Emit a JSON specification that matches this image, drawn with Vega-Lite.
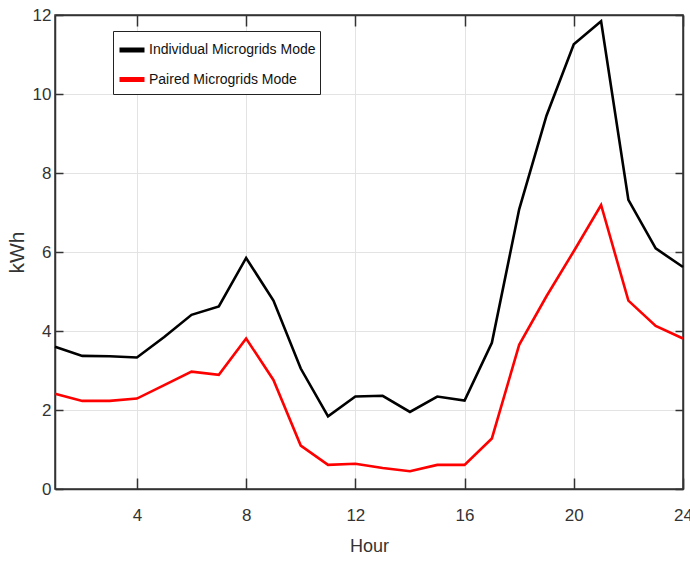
{
  "$schema": "https://vega.github.io/schema/vega-lite/v6.json",
  "width": 628,
  "height": 474,
  "autosize": {"type": "none"},
  "padding": {"left": 55, "top": 15, "right": 7, "bottom": 74},
  "background": "white",
  "config": {
    "font": "Liberation Sans, Arial, sans-serif",
    "view": {"stroke": "#333333", "strokeWidth": 1.5},
    "axis": {
      "labelFont": "Liberation Sans, Arial, sans-serif",
      "titleFont": "Liberation Sans, Arial, sans-serif",
      "labelColor": "#333333",
      "titleColor": "#333333",
      "domainColor": "#333333",
      "domainWidth": 1.5,
      "tickColor": "#333333",
      "tickWidth": 1.5,
      "gridColor": "#e3e3e3",
      "gridWidth": 1,
      "gridOpacity": 1
    }
  },
  "data": {
    "values": [
      {"hour": 1, "kwh": 3.6, "series": "Individual Microgrids Mode"},
      {"hour": 2, "kwh": 3.37, "series": "Individual Microgrids Mode"},
      {"hour": 3, "kwh": 3.36, "series": "Individual Microgrids Mode"},
      {"hour": 4, "kwh": 3.33, "series": "Individual Microgrids Mode"},
      {"hour": 5, "kwh": 3.85, "series": "Individual Microgrids Mode"},
      {"hour": 6, "kwh": 4.41, "series": "Individual Microgrids Mode"},
      {"hour": 7, "kwh": 4.62, "series": "Individual Microgrids Mode"},
      {"hour": 8, "kwh": 5.85, "series": "Individual Microgrids Mode"},
      {"hour": 9, "kwh": 4.77, "series": "Individual Microgrids Mode"},
      {"hour": 10, "kwh": 3.05, "series": "Individual Microgrids Mode"},
      {"hour": 11, "kwh": 1.84, "series": "Individual Microgrids Mode"},
      {"hour": 12, "kwh": 2.34, "series": "Individual Microgrids Mode"},
      {"hour": 13, "kwh": 2.36, "series": "Individual Microgrids Mode"},
      {"hour": 14, "kwh": 1.95, "series": "Individual Microgrids Mode"},
      {"hour": 15, "kwh": 2.34, "series": "Individual Microgrids Mode"},
      {"hour": 16, "kwh": 2.24, "series": "Individual Microgrids Mode"},
      {"hour": 17, "kwh": 3.7, "series": "Individual Microgrids Mode"},
      {"hour": 18, "kwh": 7.08, "series": "Individual Microgrids Mode"},
      {"hour": 19, "kwh": 9.45, "series": "Individual Microgrids Mode"},
      {"hour": 20, "kwh": 11.26, "series": "Individual Microgrids Mode"},
      {"hour": 21, "kwh": 11.84, "series": "Individual Microgrids Mode"},
      {"hour": 22, "kwh": 7.32, "series": "Individual Microgrids Mode"},
      {"hour": 23, "kwh": 6.09, "series": "Individual Microgrids Mode"},
      {"hour": 24, "kwh": 5.62, "series": "Individual Microgrids Mode"},
      {"hour": 1, "kwh": 2.41, "series": "Paired Microgrids Mode"},
      {"hour": 2, "kwh": 2.23, "series": "Paired Microgrids Mode"},
      {"hour": 3, "kwh": 2.23, "series": "Paired Microgrids Mode"},
      {"hour": 4, "kwh": 2.29, "series": "Paired Microgrids Mode"},
      {"hour": 5, "kwh": 2.63, "series": "Paired Microgrids Mode"},
      {"hour": 6, "kwh": 2.97, "series": "Paired Microgrids Mode"},
      {"hour": 7, "kwh": 2.89, "series": "Paired Microgrids Mode"},
      {"hour": 8, "kwh": 3.81, "series": "Paired Microgrids Mode"},
      {"hour": 9, "kwh": 2.76, "series": "Paired Microgrids Mode"},
      {"hour": 10, "kwh": 1.1, "series": "Paired Microgrids Mode"},
      {"hour": 11, "kwh": 0.61, "series": "Paired Microgrids Mode"},
      {"hour": 12, "kwh": 0.64, "series": "Paired Microgrids Mode"},
      {"hour": 13, "kwh": 0.53, "series": "Paired Microgrids Mode"},
      {"hour": 14, "kwh": 0.45, "series": "Paired Microgrids Mode"},
      {"hour": 15, "kwh": 0.61, "series": "Paired Microgrids Mode"},
      {"hour": 16, "kwh": 0.61, "series": "Paired Microgrids Mode"},
      {"hour": 17, "kwh": 1.28, "series": "Paired Microgrids Mode"},
      {"hour": 18, "kwh": 3.65, "series": "Paired Microgrids Mode"},
      {"hour": 19, "kwh": 4.88, "series": "Paired Microgrids Mode"},
      {"hour": 20, "kwh": 6.02, "series": "Paired Microgrids Mode"},
      {"hour": 21, "kwh": 7.19, "series": "Paired Microgrids Mode"},
      {"hour": 22, "kwh": 4.77, "series": "Paired Microgrids Mode"},
      {"hour": 23, "kwh": 4.13, "series": "Paired Microgrids Mode"},
      {"hour": 24, "kwh": 3.81, "series": "Paired Microgrids Mode"}
    ]
  },
  "layer": [
    {
      "mark": {"type": "line", "strokeWidth": 2.6},
      "encoding": {
        "x": {
          "field": "hour", "type": "quantitative",
          "scale": {"domain": [1, 24], "nice": false, "zero": false},
          "axis": {
            "orient": "bottom", "title": "Hour", "values": [4, 8, 12, 16, 20, 24],
            "tickSize": -11, "labelPadding": 29, "labelFontSize": 17,
            "titleFontSize": 18, "titleFontWeight": "normal", "titlePadding": 14,
            "grid": true, "labelFlush": false
          }
        },
        "y": {
          "field": "kwh", "type": "quantitative",
          "scale": {"domain": [0, 12], "nice": false},
          "axis": {
            "orient": "left", "title": "kWh", "values": [0, 2, 4, 6, 8, 10, 12],
            "tickSize": -8, "labelPadding": 12, "labelFontSize": 17,
            "titleFontSize": 21, "titleFontWeight": "normal", "titlePadding": 5,
            "grid": true, "labelFlush": false
          }
        },
        "color": {
          "field": "series", "type": "nominal",
          "scale": {"domain": ["Individual Microgrids Mode", "Paired Microgrids Mode"], "range": ["#000000", "#ff0000"]},
          "legend": {
            "title": null, "orient": "none", "legendX": 58, "legendY": 16,
            "fillColor": "white", "strokeColor": "#222222", "padding": 4,
            "symbolType": "stroke", "symbolStrokeWidth": 5, "symbolSize": 625,
            "labelFontSize": 14, "labelColor": "#111111", "labelOffset": 2,
            "rowPadding": 4.5, "labelLimit": 300
          }
        }
      }
    },
    {
      "mark": {"type": "line", "strokeOpacity": 0},
      "encoding": {
        "x": {
          "field": "hour", "type": "quantitative",
          "scale": {"domain": [1, 24], "nice": false, "zero": false},
          "axis": {"orient": "top", "title": null, "values": [4, 8, 12, 16, 20, 24], "labels": false, "tickSize": -11, "grid": false}
        },
        "y": {
          "field": "kwh", "type": "quantitative",
          "scale": {"domain": [0, 12], "nice": false},
          "axis": {"orient": "right", "title": null, "values": [0, 2, 4, 6, 8, 10, 12], "labels": false, "tickSize": -8, "grid": false}
        },
        "detail": {"field": "series", "type": "nominal"}
      }
    }
  ],
  "resolve": {"axis": {"x": "independent", "y": "independent"}}
}
